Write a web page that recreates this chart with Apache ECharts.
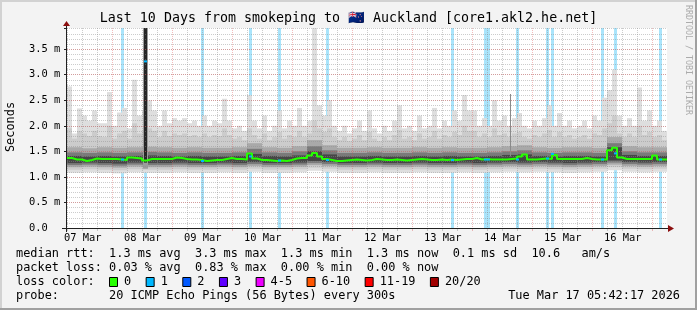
<!DOCTYPE html>
<html><head><meta charset="utf-8">
<script src="https://cdn.jsdelivr.net/npm/echarts@6/dist/echarts.min.js"></script>
<style>html,body{margin:0;padding:0;background:#f3f3f3}#c{width:697px;height:310px}</style>
</head><body><div id="c"></div>
<script>
// ---------------- data ----------------
const titleText = 'Last 10 Days from smokeping to \u{1F1F3}\u{1F1FF} Auckland [core1.akl2.he.net]';
const yAxisName = 'Seconds';
const xStartHour = 5.705;   // Mar 07 05:42:17, hours since Mar 07 00:00
const xEndHour = 245.705;   // Mar 17 05:42:17
const yMaxMs = 3.914;
const dayLabels = ['07 Mar','08 Mar','09 Mar','10 Mar','11 Mar','12 Mar','13 Mar','14 Mar','15 Mar','16 Mar'];
const dayLabelHours = [12,36,60,84,108,132,156,180,204,228];
const dayLineHours = [24,48,72,96,120,144,168,192,216,240];

// smoke, 2-hour buckets (120)
const smokeStepHours = 2;
const smokeMax = [2.77,1.85,2.34,2.20,2.10,2.30,2.05,2.05,2.66,2.00,
 2.26,2.35,1.95,2.90,2.20,2.30,2.50,2.30,2.00,2.30,
 2.05,2.15,2.10,2.15,2.05,2.10,2.00,2.20,2.00,2.10,
 2.05,2.53,2.10,1.95,2.00,1.90,2.60,2.10,1.95,2.20,
 1.90,2.00,2.30,1.95,2.10,2.00,2.35,2.00,2.10,4.00,
 2.40,2.20,2.50,2.00,1.90,2.00,1.85,1.95,2.10,1.90,
 2.30,1.95,1.85,2.00,1.90,2.10,2.40,1.95,2.00,1.90,
 2.20,1.95,2.00,2.35,1.95,2.10,2.00,2.30,2.10,2.60,
 2.30,2.30,2.00,2.15,2.00,2.50,2.10,2.20,2.00,2.15,
 2.25,2.00,1.95,2.10,2.00,2.15,2.40,2.00,2.25,2.00,
 2.10,1.95,2.00,2.10,1.95,2.20,2.10,2.55,2.70,3.10,
 2.20,2.00,2.15,2.00,2.75,2.10,2.30,2.00,2.10,1.90];
const smokeHigh90 = [1.95,1.75,1.90,1.85,1.80,1.90,1.80,1.78,2.00,1.75,
 1.85,1.90,1.75,2.05,1.85,1.90,1.95,1.90,1.78,1.90,
 1.80,1.85,1.82,1.85,1.80,1.82,1.78,1.85,1.78,1.82,
 1.80,1.95,1.82,1.75,1.78,1.72,1.95,1.82,1.75,1.85,
 1.72,1.78,1.88,1.75,1.82,1.78,1.90,1.78,1.85,2.10,
 1.95,1.88,1.95,1.78,1.72,1.78,1.70,1.75,1.82,1.72,
 1.88,1.75,1.70,1.78,1.72,1.82,1.92,1.75,1.78,1.72,
 1.85,1.75,1.78,1.90,1.75,1.82,1.78,1.88,1.82,2.00,
 1.90,1.90,1.78,1.85,1.78,1.95,1.82,1.85,1.78,1.85,
 1.88,1.78,1.75,1.82,1.78,1.85,1.92,1.78,1.88,1.78,
 1.82,1.75,1.78,1.82,1.75,1.85,1.82,1.95,2.05,2.20,
 1.85,1.78,1.85,1.78,2.00,1.82,1.88,1.78,1.82,1.72];
const medianRtt = [1.37,1.34,1.34,1.31,1.33,1.36,1.35,1.35,1.35,1.35,
 1.34,1.33,1.38,1.37,1.36,1.32,1.35,1.35,1.35,1.35,
 1.35,1.38,1.37,1.35,1.34,1.34,1.33,1.31,1.32,1.33,
 1.33,1.35,1.37,1.35,1.35,1.34,1.46,1.36,1.33,1.33,
 1.32,1.31,1.32,1.31,1.33,1.36,1.37,1.37,1.42,1.47,
 1.40,1.35,1.33,1.31,1.31,1.32,1.33,1.34,1.33,1.32,
 1.33,1.35,1.34,1.33,1.33,1.34,1.33,1.32,1.33,1.34,
 1.35,1.34,1.33,1.33,1.34,1.33,1.34,1.33,1.34,1.35,
 1.35,1.37,1.34,1.35,1.34,1.34,1.34,1.34,1.35,1.36,
 1.40,1.44,1.34,1.34,1.35,1.36,1.35,1.43,1.35,1.35,
 1.35,1.35,1.35,1.37,1.35,1.34,1.34,1.34,1.52,1.57,
 1.38,1.35,1.35,1.35,1.35,1.35,1.35,1.42,1.34,1.34];

// smoke, 6-hour buckets (40)
const smokeWideStepHours = 6;
const smokeMin = [1.08,1.09,1.08,1.07,1.09,1.08,1.08,1.09,1.08,1.08,
 1.09,1.08,1.10,1.08,1.08,1.09,1.12,1.10,1.08,1.08,
 1.09,1.08,1.08,1.09,1.08,1.08,1.09,1.08,1.09,1.10,
 1.09,1.10,1.09,1.08,1.09,1.10,1.13,1.10,1.09,1.10];
const smokeLow90 = [1.14,1.15,1.14,1.13,1.15,1.14,1.14,1.15,1.14,1.14,
 1.15,1.14,1.16,1.14,1.14,1.15,1.18,1.16,1.14,1.14,
 1.15,1.14,1.14,1.15,1.14,1.14,1.15,1.14,1.15,1.16,
 1.15,1.16,1.15,1.14,1.15,1.16,1.19,1.16,1.15,1.16];
const smokeLow80 = [1.19,1.20,1.19,1.18,1.20,1.19,1.19,1.20,1.19,1.19,
 1.20,1.19,1.21,1.19,1.19,1.20,1.23,1.21,1.19,1.19,
 1.20,1.19,1.19,1.20,1.19,1.19,1.20,1.19,1.20,1.21,
 1.20,1.21,1.20,1.19,1.20,1.21,1.24,1.21,1.20,1.21];
const smokeHigh80 = [1.58,1.56,1.58,1.57,1.58,1.59,1.58,1.57,1.58,1.57,
 1.57,1.58,1.66,1.58,1.57,1.60,1.72,1.62,1.57,1.57,
 1.58,1.57,1.57,1.58,1.57,1.58,1.57,1.57,1.58,1.60,
 1.62,1.58,1.57,1.58,1.58,1.57,1.78,1.60,1.58,1.58];
const smokeLow70 = [1.23,1.24,1.23,1.22,1.24,1.23,1.23,1.24,1.23,1.23,
 1.24,1.23,1.25,1.23,1.23,1.24,1.27,1.25,1.23,1.23,
 1.24,1.23,1.23,1.24,1.23,1.23,1.24,1.23,1.24,1.25,
 1.24,1.25,1.24,1.23,1.24,1.25,1.28,1.25,1.24,1.25];
const smokeHigh70 = [1.48,1.47,1.48,1.47,1.48,1.49,1.48,1.47,1.48,1.47,
 1.47,1.48,1.55,1.48,1.47,1.50,1.60,1.52,1.47,1.47,
 1.48,1.47,1.47,1.48,1.47,1.48,1.47,1.47,1.48,1.50,
 1.52,1.48,1.47,1.48,1.48,1.47,1.66,1.50,1.48,1.48];
const smokeLow60 = [1.27,1.28,1.27,1.26,1.28,1.27,1.27,1.28,1.27,1.27,
 1.28,1.27,1.29,1.27,1.27,1.28,1.31,1.29,1.27,1.27,
 1.28,1.27,1.27,1.28,1.27,1.27,1.28,1.27,1.28,1.29,
 1.28,1.29,1.28,1.27,1.28,1.29,1.32,1.29,1.28,1.29];
const smokeHigh60 = [1.41,1.40,1.41,1.40,1.41,1.42,1.41,1.40,1.41,1.40,
 1.40,1.41,1.45,1.41,1.40,1.42,1.50,1.44,1.40,1.40,
 1.41,1.40,1.40,1.41,1.40,1.41,1.40,1.40,1.41,1.43,
 1.44,1.41,1.40,1.41,1.41,1.40,1.58,1.43,1.41,1.41];

// single-step spikes: the big one on 08 Mar, a thin one on 14 Mar
const spikeHours = [37.1];
const spikeLow = [1.28];
const spikeHigh = [3.914];
const thinSpikeHours = [183.1];
const thinSpikeLow = [1.40];
const thinSpikeHigh = [2.62];

// steps with 1/20 packet loss (light-blue stripes + blue median)
const lossHours = [28.1,37.1,60.1,79.3,90.9,110.1,160.1,173.7,186.1,198.1,200.1,220.1,225.3,243.3];
const lossSteps = [1,1,1,1,1,1,1,2,1,1,1,1,1,1];
const lossMedian = [1.34,3.26,1.31,1.40,1.32,1.33,1.33,1.34,1.34,1.36,1.45,1.34,1.46,1.34];

// legend
const statsRtt = 'median rtt:  1.3 ms avg  3.3 ms max  1.3 ms min  1.3 ms now  0.1 ms sd  10.6   am/s';
const statsLoss = 'packet loss: 0.03 % avg  0.83 % max  0.00 % min  0.00 % now';
const lossLegendTitle = 'loss color:';
const lossLegendLabels = ['0','1','2','3','4-5','6-10','11-19','20/20'];
const probeText = 'probe:       20 ICMP Echo Pings (56 Bytes) every 300s';
const dateText = 'Tue Mar 17 05:42:17 2026';
const watermark = 'RRDTOOL / TOBI OETIKER';

// ---------------- styles ----------------
const MONO = '"DejaVu Sans Mono", monospace';
const lossLegendColors = ['#26ff00','#00b8ff','#0059ff','#5e00ff','#ee00ff','#ff5500','#ff0000','#a10000'];
const SMOKE_COLORS = ['#dedede','#cccccc','#a9a9a9','#7a7a7a','#464646'];
const GRID_MINOR = 'rgba(143,143,143,0.45)';
const GRID_MAJOR = 'rgba(222,80,80,0.38)';
const LEG_FS = 11.9;
const AX_FS = 10.4;

// ---------------- build ----------------
function bandSeries(items, color, z) {
  return {
    type: 'custom', z: z, silent: true, clip: false,
    renderItem: function (params, api) {
      const p0 = api.coord([api.value(0), api.value(3)]);
      const p1 = api.coord([api.value(1), api.value(2)]);
      const x0 = Math.round(p0[0]), x1 = Math.max(Math.round(p1[0]), x0 + 1);
      const cs = params.coordSys;
      const r = echarts.graphic.clipRectByRect(
        {x: x0, y: p0[1], width: x1 - x0, height: p1[1] - p0[1]},
        {x: cs.x, y: cs.y, width: cs.width, height: cs.height});
      if (!r) return null;
      return {type: 'rect', shape: r, style: {fill: color}};
    },
    encode: {x: [0, 1], y: [2, 3]},
    data: items
  };
}

const wideT = smokeMin.map((v, j) => [xStartHour + j * smokeWideStepHours, xStartHour + (j + 1) * smokeWideStepHours]);
const narrowT = smokeMax.map((v, i) => [xStartHour + i * smokeStepHours, xStartHour + (i + 1) * smokeStepHours]);

const series = [];
// loss stripes
series.push(bandSeries(lossHours.map((h, k) => [h - 0.6 * lossSteps[k], h + 0.6 * lossSteps[k], 0, yMaxMs]), '#a9e4fb', 1));
// smoke layers
series.push(bandSeries(narrowT.map((t, i) => [t[0], t[1], smokeMin[Math.floor(i / 3)], smokeMax[i]]), SMOKE_COLORS[0], 2));
series.push(bandSeries(narrowT.map((t, i) => [t[0], t[1], smokeLow90[Math.floor(i / 3)], smokeHigh90[i]]), SMOKE_COLORS[1], 2));
series.push(bandSeries(wideT.map((t, j) => [t[0], t[1], smokeLow80[j], smokeHigh80[j]]), SMOKE_COLORS[2], 2));
series.push(bandSeries(wideT.map((t, j) => [t[0], t[1], smokeLow70[j], smokeHigh70[j]]), SMOKE_COLORS[3], 2));
series.push(bandSeries(wideT.map((t, j) => [t[0], t[1], smokeLow60[j], smokeHigh60[j]]), SMOKE_COLORS[4], 2));
// spikes
series.push(bandSeries(spikeHours.map((h, k) => [h - 0.9, h + 0.9, spikeLow[k] - 0.12, spikeHigh[k]]), '#9c9c9c', 2));
series.push(bandSeries(spikeHours.map((h, k) => [h - 0.5, h + 0.5, spikeLow[k], spikeHigh[k]]), '#262626', 2));
series.push(bandSeries(thinSpikeHours.map((h, k) => [h - 0.3, h + 0.3, thinSpikeLow[k], thinSpikeHigh[k]]), '#8a8a8a', 2));

// vertical grid lines
const minorHours = [];
for (let h = 6; h < xEndHour; h += 6) if (h % 24 !== 0) minorHours.push(h);
function vLines(hours, color, z) {
  return {
    type: 'custom', z: z, silent: true, clip: false,
    renderItem: function (params, api) {
      const cs = params.coordSys;
      const x = Math.floor(api.coord([api.value(0), 0])[0]) + 0.5;
      return {type: 'group', children: [
        {type: 'line', shape: {x1: x, y1: cs.y, x2: x, y2: cs.y + cs.height}, style: {stroke: color, lineWidth: 1, lineDash: [1, 1]}},
        {type: 'line', shape: {x1: x, y1: cs.y + cs.height + 1, x2: x, y2: cs.y + cs.height + 3}, style: {stroke: color, lineWidth: 1}}
      ]};
    },
    encode: {x: 0},
    data: hours.map(h => [h])
  };
}
series.push(vLines(minorHours, GRID_MINOR, 3));
series.push(vLines(dayLineHours, GRID_MAJOR, 3));

// median line
const medianData = medianRtt.map((v, i) => [xStartHour + i * smokeStepHours, v]);
medianData.push([xEndHour, medianRtt[medianRtt.length - 1]]);
series.push({type: 'line', step: 'end', data: medianData, showSymbol: false, z: 5, silent: true,
  lineStyle: {color: lossLegendColors[0], width: 2}});
// loss-coloured median segments
series.push({
  type: 'custom', z: 6, silent: true, clip: false,
  renderItem: function (params, api) {
    const p0 = api.coord([api.value(0) - 0.6 * api.value(2), api.value(1)]);
    const p1 = api.coord([api.value(0) + 0.6 * api.value(2), api.value(1)]);
    return {type: 'rect', shape: {x: Math.round(p0[0]), y: p0[1] - 1, width: Math.round(p1[0]) - Math.round(p0[0]), height: 2}, style: {fill: lossLegendColors[1]}};
  },
  encode: {x: 0, y: 1},
  data: lossHours.map((h, k) => [h, lossMedian[k], lossSteps[k]])
});

// x labels
series.push({
  type: 'custom', z: 6, silent: true, clip: false,
  renderItem: function (params, api) {
    const p = api.coord([api.value(0), 0]);
    return {type: 'text', x: p[0], y: p[1] + 10, style: {text: dayLabels[params.dataIndex], fontFamily: MONO, fontSize: AX_FS, fill: '#000', align: 'center', verticalAlign: 'middle'}};
  },
  encode: {x: 0},
  data: dayLabelHours.map(h => [h])
});

// axis lines and arrows
series.push({
  type: 'custom', z: 7, silent: true, clip: false,
  renderItem: function (params, api) {
    const o = api.coord([xStartHour, 0]);
    const e = api.coord([xEndHour, 0]);
    const t = api.coord([xStartHour, yMaxMs]);
    const ax = Math.floor(o[0]) - 0.5, ay = Math.floor(o[1]) + 0.5;
    return {type: 'group', children: [
      {type: 'line', shape: {x1: o[0] - 5, y1: ay, x2: e[0] + 2, y2: ay}, style: {stroke: '#202020', lineWidth: 1}},
      {type: 'line', shape: {x1: ax, y1: o[1] + 4, x2: ax, y2: t[1] - 2}, style: {stroke: '#202020', lineWidth: 1}},
      {type: 'polygon', shape: {points: [[ax, t[1] - 7], [ax - 3.5, t[1] - 2], [ax + 3.5, t[1] - 2]]}, style: {fill: '#8b0f0f'}},
      {type: 'polygon', shape: {points: [[e[0] + 7, ay], [e[0] + 1, ay - 3.5], [e[0] + 1, ay + 3.5]]}, style: {fill: '#8b0f0f'}}
    ]};
  },
  data: [[xStartHour, 0]]
});

// legend graphics
const graphic = [
  {type: 'rect', shape: {x: 0, y: 0, width: 697, height: 2}, style: {fill: '#d2d2d2'}, silent: true},
  {type: 'rect', shape: {x: 0, y: 0, width: 2, height: 310}, style: {fill: '#d2d2d2'}, silent: true},
  {type: 'rect', shape: {x: 0, y: 308, width: 697, height: 2}, style: {fill: '#a0a0a0'}, silent: true},
  {type: 'rect', shape: {x: 695, y: 0, width: 2, height: 310}, style: {fill: '#a0a0a0'}, silent: true},
  {type: 'text', x: 348.5, y: 19, style: {text: titleText, fontFamily: MONO, fontSize: 13.3, fill: '#000', align: 'center', verticalAlign: 'middle'}},
  {type: 'text', x: 11, y: 127, rotation: Math.PI / 2, style: {text: yAxisName, fontFamily: MONO, fontSize: LEG_FS, fill: '#000', align: 'center', verticalAlign: 'middle'}},
  {type: 'text', x: 688, y: 5, rotation: -Math.PI / 2, style: {text: watermark, fontFamily: MONO, fontSize: 8.3, fill: '#ababab', align: 'left', verticalAlign: 'middle'}},
  {type: 'text', x: 16, y: 253.5, style: {text: statsRtt, fontFamily: MONO, fontSize: LEG_FS, fill: '#000', verticalAlign: 'middle'}},
  {type: 'text', x: 16, y: 267.5, style: {text: statsLoss, fontFamily: MONO, fontSize: LEG_FS, fill: '#000', verticalAlign: 'middle'}},
  {type: 'text', x: 16, y: 281.5, style: {text: lossLegendTitle, fontFamily: MONO, fontSize: LEG_FS, fill: '#000', verticalAlign: 'middle'}},
  {type: 'text', x: 16, y: 295.5, style: {text: probeText, fontFamily: MONO, fontSize: LEG_FS, fill: '#000', verticalAlign: 'middle'}},
  {type: 'text', x: 680, y: 295.5, style: {text: dateText, fontFamily: MONO, fontSize: LEG_FS, fill: '#000', align: 'right', verticalAlign: 'middle'}}
];
const CH = 7.15;
let bx = 109;
lossLegendLabels.forEach((lab, k) => {
  graphic.push({type: 'rect', shape: {x: bx + 0.5, y: 277.5, width: 8, height: 9}, style: {fill: lossLegendColors[k], stroke: '#000', lineWidth: 1}, silent: true});
  graphic.push({type: 'text', x: bx + 15, y: 281.5, style: {text: lab, fontFamily: MONO, fontSize: LEG_FS, fill: '#000', verticalAlign: 'middle'}});
  bx = bx + 15 + lab.length * CH + 14.5;
});

const option = {
  animation: false,
  backgroundColor: '#f3f3f3',
  grid: {left: 67, right: 30, top: 28, bottom: 82, show: true, backgroundColor: '#ffffff', borderWidth: 0, containLabel: false, outerBoundsMode: 'none'},
  xAxis: {type: 'value', min: xStartHour, max: xEndHour, show: false},
  yAxis: [
    {type: 'value', min: 0, max: yMaxMs, interval: 0.5, z: 4,
      axisLine: {show: false},
      axisTick: {show: true, length: 3, lineStyle: {color: '#202020'}},
      axisLabel: {show: true, align: 'left', margin: 38, fontFamily: MONO, fontSize: AX_FS, color: '#000',
        formatter: function (v) { if (Math.abs(v / 0.5 - Math.round(v / 0.5)) > 1e-6) return ''; return v === 0 ? '0.0' : v.toFixed(1) + ' m'; }},
      splitLine: {show: true, showMaxLine: false, showMinLine: false, lineStyle: {color: GRID_MAJOR, type: [1, 1], width: 1}}},
    {type: 'value', min: 0, max: yMaxMs, interval: 0.1, z: 3, position: 'left',
      axisLine: {show: false}, axisTick: {show: false}, axisLabel: {show: false},
      splitLine: {show: true, showMaxLine: false, showMinLine: false, lineStyle: {color: GRID_MINOR, type: [1, 1], width: 1}}}
  ],
  series: series,
  graphic: graphic
};
const chart = echarts.init(document.getElementById('c'), null, {renderer: 'canvas', width: 697, height: 310});
chart.setOption(option);
</script>
</body></html>
